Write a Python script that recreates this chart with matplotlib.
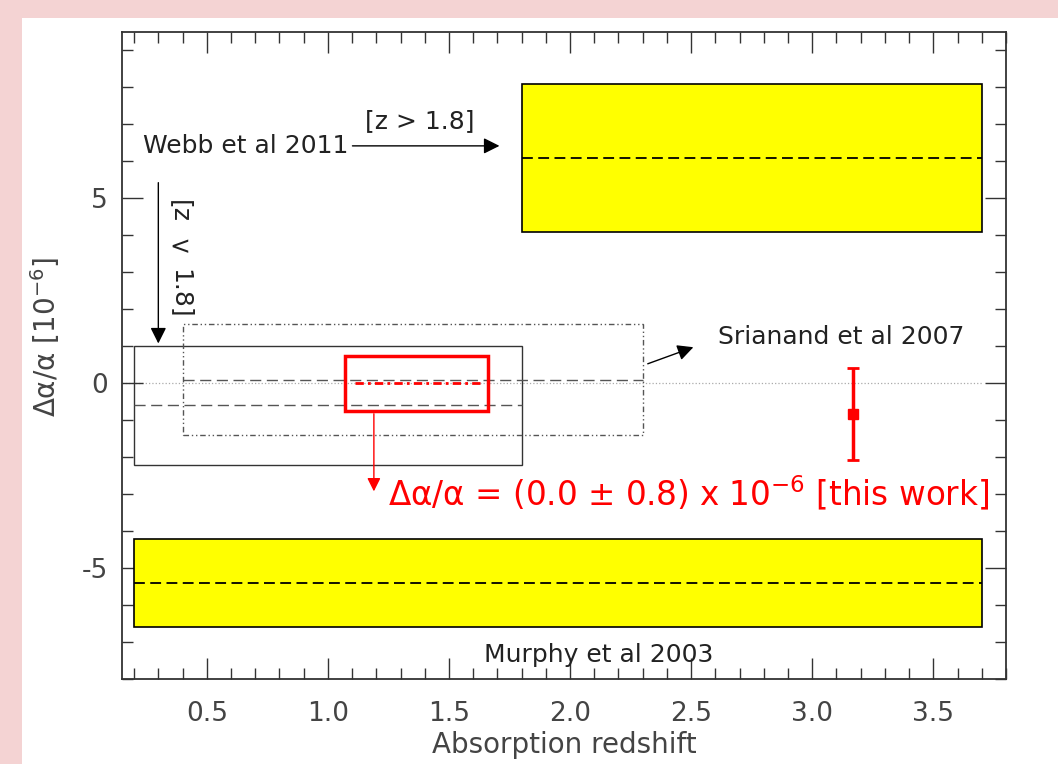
import matplotlib
matplotlib.use("Agg")
import matplotlib.pyplot as plt
from matplotlib.patches import Rectangle
from matplotlib.ticker import MultipleLocator

# results: (z_min, z_max, centre, half-width) in units of 1e-6
webb_high = (1.8, 3.7, 6.1, 2.0)
webb_low = (0.2, 1.8, -0.6, 1.6)
srianand = (0.4, 2.3, 0.1, 1.5)
murphy = (0.2, 3.7, -5.4, 1.2)
this_work = (1.07, 1.66, 0.0, 0.75)

# single point with asymmetric error
pt_z = [3.17]
pt_val = [-0.82]
pt_err = [[1.27], [1.22]]

plt.rcParams['font.family'] = ['DejaVu Sans']
plt.rcParams['axes.unicode_minus'] = False
plt.rcParams['mathtext.default'] = 'regular'

fig = plt.figure(figsize=(10.58, 7.64), dpi=100)
fig.patch.set_facecolor('#f4d3d3')
fig.patches.append(Rectangle((22 / 1058, 0), 1, 1 - 18 / 764, transform=fig.transFigure,
                             facecolor='white', edgecolor='none', zorder=-1))
ax = fig.add_axes([122 / 1058, 1 - 679 / 764, (1006 - 122) / 1058, (679 - 32) / 764])
ax.set_facecolor('white')

ax.set_xlim(0.15, 3.8)
ax.set_ylim(-8, 9.5)

def box(b, **kw):
    x0, x1, c, h = b
    ax.add_patch(Rectangle((x0, c - h), x1 - x0, 2 * h, **kw))

# yellow Webb / Murphy bands
for b in (webb_high, murphy):
    box(b, facecolor='#ffff00', edgecolor='black', lw=1.2, zorder=2)
    ax.plot([b[0], b[1]], [b[2], b[2]], color='black', ls=(0, (6, 3)), lw=1.3, zorder=3)

# zero line
ax.plot([0.15, 3.7], [0, 0], color='#aaaaaa', ls=':', lw=0.9, zorder=1)

# Webb low-z box
box(webb_low, facecolor='none', edgecolor='#333333', lw=1.0, zorder=3)
ax.plot([webb_low[0], webb_low[1]], [webb_low[2]] * 2, color='#555555', ls=(0, (8, 4)), lw=1.0, zorder=3)

# Srianand box
box(srianand, facecolor='none', edgecolor='#555555', lw=1.0, ls=(0, (4, 2, 1, 2, 1, 2)), zorder=3)
ax.plot([srianand[0], srianand[1]], [srianand[2]] * 2, color='#555555', ls=(0, (8, 4)), lw=1.0, zorder=3)

# this work
box(this_work, facecolor='none', edgecolor='#ff0000', lw=2.5, zorder=4)
ax.plot([this_work[0] + 0.04, this_work[1] - 0.03], [this_work[2]] * 2, color='#ff0000',
        ls=(0, (3, 1.5, 1, 1.5)), lw=2, zorder=4)

ax.errorbar(pt_z, pt_val, yerr=pt_err, fmt='s', color='#ff0000', ms=7, lw=2.5,
            capsize=4, capthick=2, zorder=5)

# annotations
txt = dict(fontsize=18, color='#222222')
ax.text(0.66, 6.42, 'Webb et al 2011', ha='center', va='center', **txt)
ax.annotate('', xy=(1.72, 6.42), xytext=(1.09, 6.42),
            arrowprops=dict(arrowstyle='-|>', color='black', lw=1, mutation_scale=24))
ax.text(1.38, 7.1, '[z > 1.8]', ha='center', va='center', **txt)
ax.annotate('', xy=(0.3, 1.0), xytext=(0.3, 5.5),
            arrowprops=dict(arrowstyle='-|>', color='black', lw=1, mutation_scale=24))
ax.text(0.39, 4.96, '[z', ha='center', va='top', rotation=-90, **txt)
ax.text(0.39, 3.69, '<', ha='center', va='center', **txt)
ax.text(0.39, 1.76, '1.8]', ha='center', va='bottom', rotation=-90, **txt)
ax.annotate('', xy=(2.52, 1.0), xytext=(2.31, 0.5),
            arrowprops=dict(arrowstyle='-|>', color='black', lw=1, mutation_scale=24))
ax.text(3.12, 1.25, 'Srianand et al 2007', ha='center', va='center', **txt)
ax.text(2.12, -7.35, 'Murphy et al 2003', ha='center', va='center', **txt)

ax.annotate('', xy=(1.19, -3.0), xytext=(1.19, -0.75),
            arrowprops=dict(arrowstyle='-|>', color='#ff0000', lw=1, mutation_scale=20))
ax.text(1.25, -2.98, 'Δα/α = (0.0 ± 0.8) x 10$^{-6}$ [this work]',
        ha='left', va='center', fontsize=23.5, color='#ff0000')

# axes styling
ax.xaxis.set_major_locator(MultipleLocator(0.5))
ax.xaxis.set_minor_locator(MultipleLocator(0.1))
ax.yaxis.set_major_locator(MultipleLocator(5))
ax.yaxis.set_minor_locator(MultipleLocator(1))
ax.set_xticks([0.5, 1.0, 1.5, 2.0, 2.5, 3.0, 3.5])
ax.tick_params(which='both', direction='in', top=True, right=True, colors='#333333',
               labelcolor='#444444', labelsize=19)
ax.tick_params(axis='x', pad=16)
ax.tick_params(axis='y', pad=10)
ax.tick_params(which='major', length=15, width=1)
ax.tick_params(which='minor', length=8, width=1)
for s in ax.spines.values():
    s.set_color('#333333')
    s.set_linewidth(1.3)

ax.set_xlabel('Absorption redshift', fontsize=20, color='#444444', labelpad=3)
ax.set_ylabel('Δα/α [10$^{-6}$]', fontsize=20, color='#444444')
ax.yaxis.set_label_coords(-0.068, 0.528)

fig.savefig('out.png', dpi=100, facecolor=fig.get_facecolor())
